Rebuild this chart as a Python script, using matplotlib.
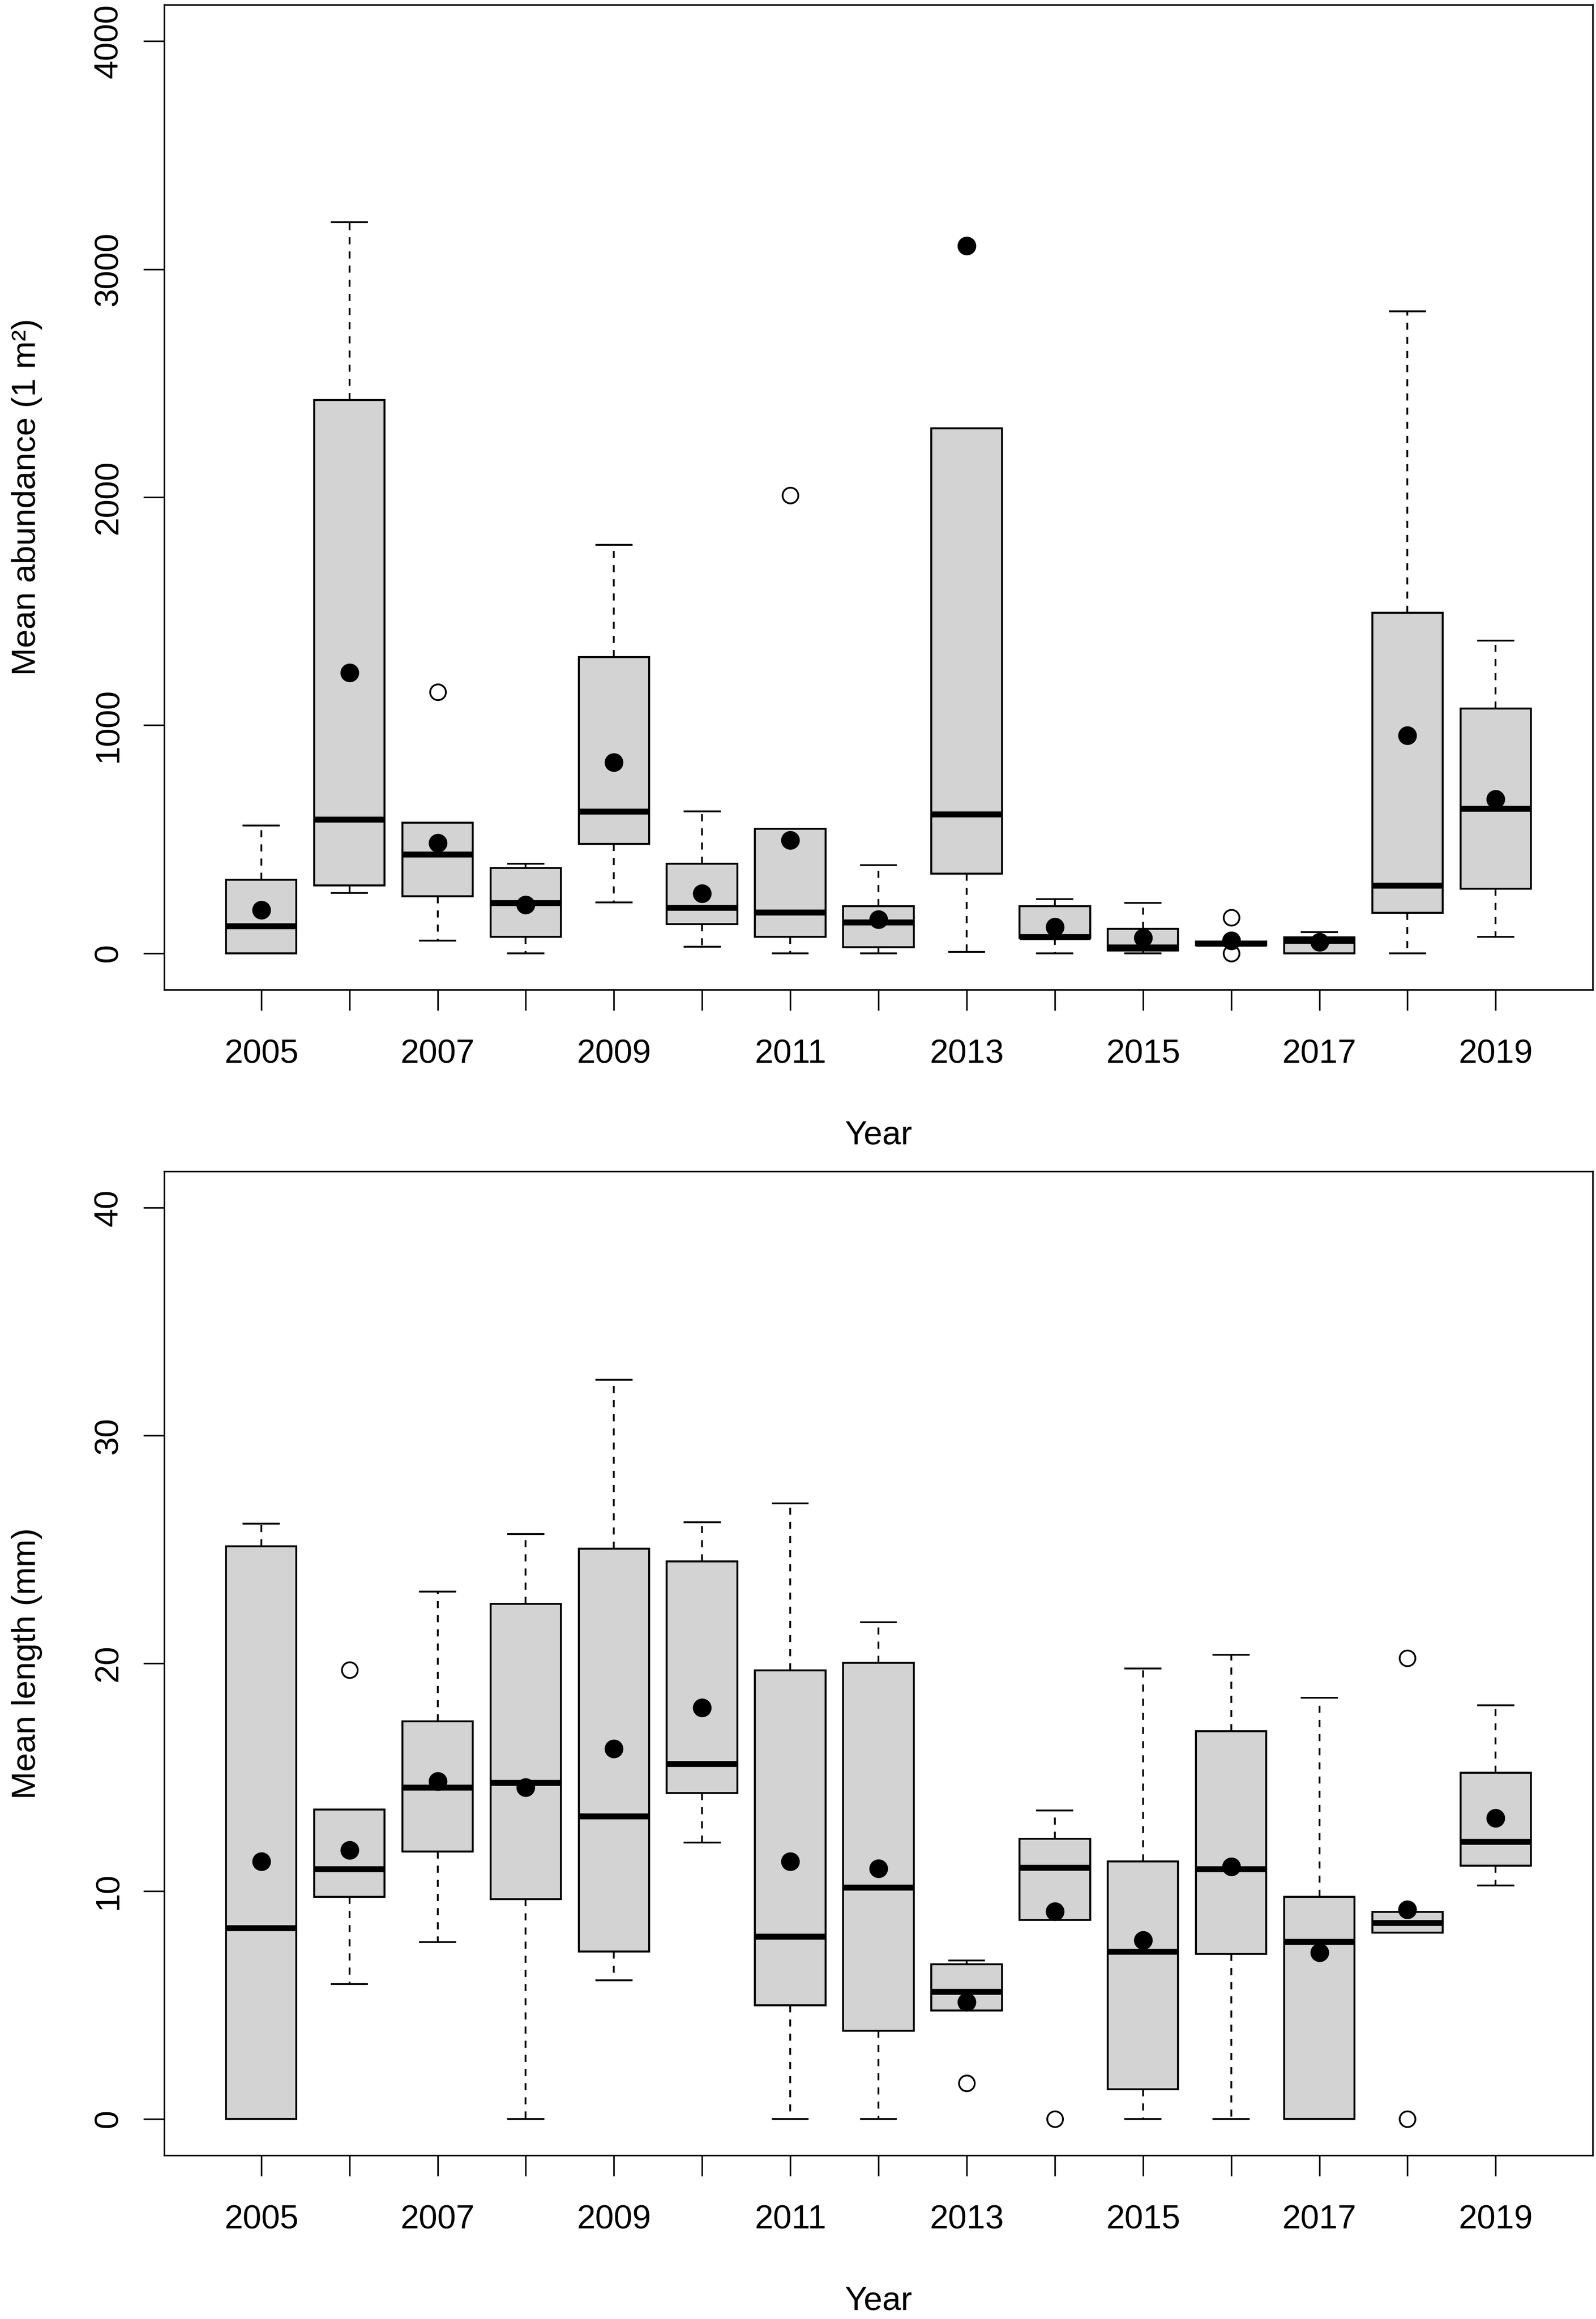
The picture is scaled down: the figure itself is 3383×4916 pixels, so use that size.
import matplotlib.pyplot as plt

plt.rcParams['font.family'] = ['Liberation Sans', 'DejaVu Sans']

years = list(range(2005, 2020))
year_labels = [str(y) if y % 2 == 1 else '' for y in years]

# Mean abundance (1 m2) per year
ab_whislo = [0, 265, 55, 0, 224, 29, 0, 0, 6, 0, 0, 35, 0, 0, 73]
ab_q1 = [0, 297, 250, 73, 480, 128, 73, 26, 349, 67, 12, 35, 0, 177, 282]
ab_med = [119, 587, 433, 221, 622, 200, 180, 137, 610, 73, 26, 44, 55, 297, 634]
ab_q3 = [323, 2427, 573, 375, 1299, 392, 546, 206, 2302, 206, 108, 52, 70, 1494, 1073]
ab_whishi = [561, 3206, 573, 392, 1791, 622, 546, 387, 2302, 238, 221, 52, 93, 2814, 1372]
ab_mean = [189, 1230, 483, 212, 837, 262, 497, 148, 3102, 116, 67, 55, 49, 956, 677]
ab_fliers = [[], [], [1145], [], [], [], [2009], [], [], [], [], [157, 0], [], [], []]

# Mean length (mm) per year
ln_whislo = [0, 5.92, 7.75, 0, 6.08, 12.14, 0, 0, 4.75, 8.74, 0, 0, 0, 8.18, 10.24]
ln_q1 = [0, 9.74, 11.74, 9.64, 7.35, 14.30, 4.99, 3.86, 4.75, 8.74, 1.30, 7.25, 0, 8.18, 11.11]
ln_med = [8.38, 10.97, 14.56, 14.76, 13.30, 15.59, 8.01, 10.17, 5.59, 11.04, 7.35, 10.97, 7.78, 8.61, 12.17]
ln_q3 = [25.14, 13.57, 17.46, 22.61, 25.04, 24.47, 19.68, 20.02, 6.78, 12.30, 11.31, 17.02, 9.74, 9.08, 15.20]
ln_whishi = [26.13, 13.57, 23.14, 25.67, 32.45, 26.20, 27.03, 21.81, 6.95, 13.53, 19.78, 20.38, 18.49, 9.08, 18.15]
ln_mean = [11.3, 11.80, 14.83, 14.56, 16.26, 18.05, 11.3, 11.0, 5.12, 9.11, 7.85, 11.07, 7.31, 9.18, 13.20]
ln_fliers = [[], [19.72], [], [], [], [], [], [], [1.56], [0], [], [], [], [20.22, 0], []]


def make_stats(lo, q1, med, q3, hi, mean, fliers):
    out = []
    for i in range(len(lo)):
        out.append({'whislo': lo[i], 'q1': q1[i], 'med': med[i], 'q3': q3[i],
                    'whishi': hi[i], 'mean': mean[i], 'fliers': fliers[i]})
    return out


def draw_panel(ax, stats, yticks, ylim, ylabel):
    ax.bxp(stats, positions=range(1, len(stats) + 1), widths=0.8, capwidths=0.4,
           patch_artist=True, showmeans=True,
           boxprops=dict(facecolor='#D3D3D3', edgecolor='black', linewidth=1.0),
           medianprops=dict(color='black', linewidth=3.0, solid_capstyle='butt'),
           whiskerprops=dict(color='black', linewidth=0.9, linestyle=(0, (4, 4))),
           capprops=dict(color='black', linewidth=0.9),
           flierprops=dict(marker='o', markerfacecolor='white', markeredgecolor='black',
                           markersize=8, markeredgewidth=0.9),
           meanprops=dict(marker='o', markerfacecolor='black', markeredgecolor='black',
                          markersize=8.5))
    ax.set_xlim(-0.1, 16.1)
    ax.set_ylim(*ylim)
    ax.set_xticks(range(1, len(years) + 1))
    ax.set_xticklabels(year_labels)
    ax.set_yticks(yticks)
    ax.set_yticklabels([str(t) for t in yticks])
    ax.tick_params(axis='both', length=10.6, width=0.8, labelsize=17, direction='out')
    ax.tick_params(axis='x', pad=14.5)
    ax.tick_params(axis='y', pad=9.6, labelrotation=90)
    for t in ax.get_yticklabels():
        t.set_va('center')
    for s in ax.spines.values():
        s.set_linewidth(0.8)
    ax.set_xlabel('Year', fontsize=17, labelpad=25.5)
    ax.set_ylabel(ylabel, fontsize=17, labelpad=26)


fig = plt.figure(figsize=(3383 / 300, 4916 / 300), dpi=300)
ax1 = fig.add_axes([0.1029, 0.5732, 0.895, 0.4248])
ax2 = fig.add_axes([0.1029, 0.0706, 0.895, 0.4243])

draw_panel(ax1, make_stats(ab_whislo, ab_q1, ab_med, ab_q3, ab_whishi, ab_mean, ab_fliers),
           [0, 1000, 2000, 3000, 4000], (-160, 4160), 'Mean abundance (1 m²)')
draw_panel(ax2, make_stats(ln_whislo, ln_q1, ln_med, ln_q3, ln_whishi, ln_mean, ln_fliers),
           [0, 10, 20, 30, 40], (-1.6, 41.6), 'Mean length (mm)')

fig.savefig('out.png', dpi=300)
